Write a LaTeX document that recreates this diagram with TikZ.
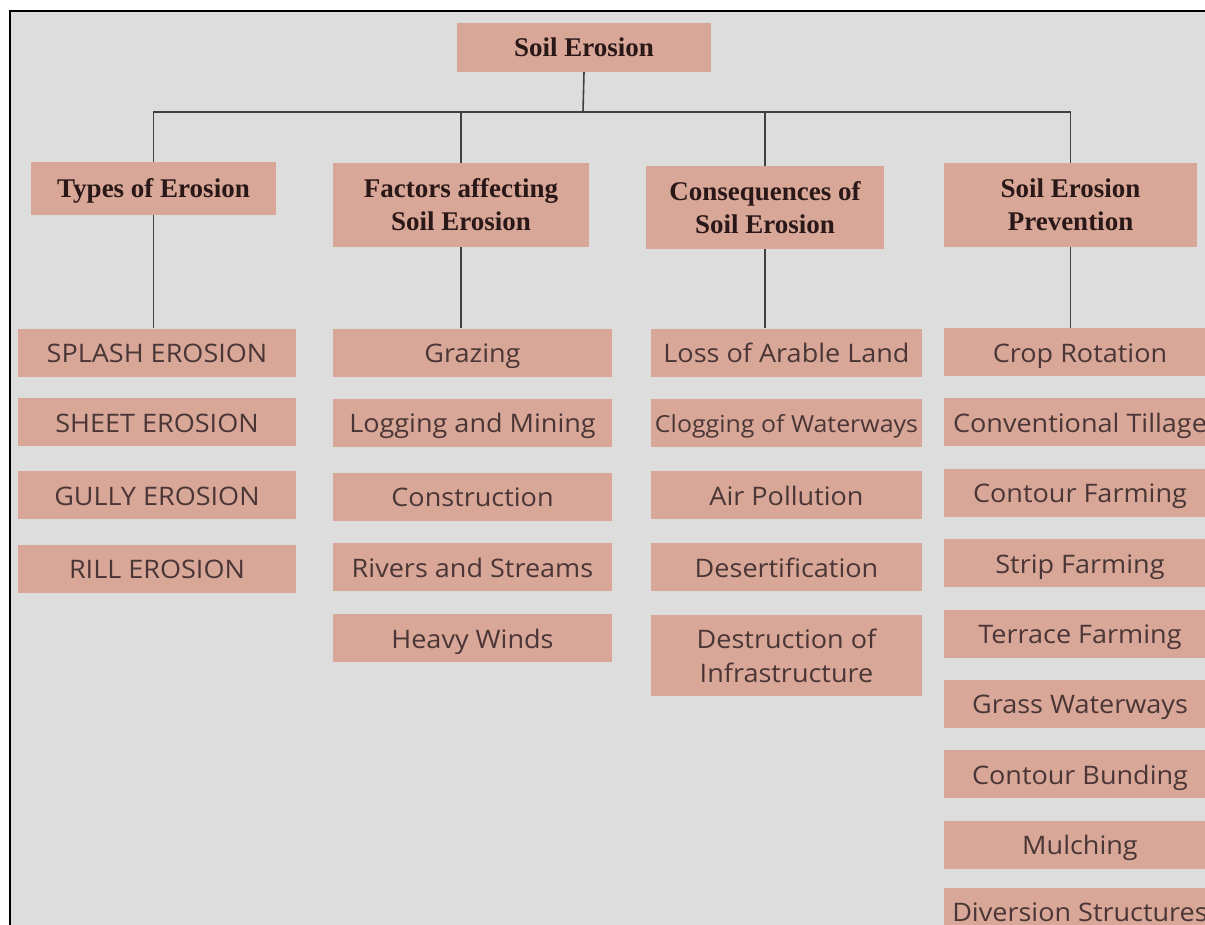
\documentclass[tikz,border=0pt]{standalone}
\usepackage{fontspec}
\setmainfont{Liberation Serif}
\newfontfamily\leaffont[FakeStretch=1.06]{Open Sans}
\usepackage{xcolor}
\usepackage{tikz}
\usetikzlibrary{positioning}
\definecolor{boxfill}{RGB}{216,167,151}
\definecolor{paper}{RGB}{221,221,221}
\definecolor{headtext}{RGB}{42,24,24}
\definecolor{leaftext}{RGB}{74,54,54}
\definecolor{linkgray}{RGB}{64,64,64}

\begin{document}
\begin{tikzpicture}[x=1pt, y=-1pt,
    headbox/.style={fill=boxfill, text=headtext, align=center, inner sep=0pt,
        font=\fontsize{27}{33}\selectfont\bfseries},
    leafbox/.style={fill=boxfill, text=leaftext, align=center, inner sep=0pt,
        minimum height=48, font=\leaffont\fontsize{25.5}{34}\selectfont},
    oneline/.style={text height=#1, text depth=0pt},
    link/.style={draw=linkgray, line width=1.6pt}]
    % Khung nền
    \useasboundingbox (0,0) rectangle (1205,924);
    \clip (0,0) rectangle (1205,924);
    \fill[white] (0,0) rectangle (1205,924);
    \draw[fill=paper, line width=2pt] (10,11) rectangle (1240,960);

    % Gốc và các nhánh chính
    \node[headbox, oneline=18, minimum width=254, minimum height=49] (root) at (584,47.5) {Soil Erosion};
    \node[headbox, oneline=18, minimum width=245, minimum height=53] (types) at (153.5,188.5) {Types of Erosion};
    \node[headbox, minimum width=256, minimum height=84] (factors) at (461,205) {Factors affecting\\Soil Erosion};
    \node[headbox, minimum width=238, minimum height=83] (cons) at (765,207.5) {Consequences of\\Soil Erosion};
    \node[headbox, minimum width=253, minimum height=84] (prev) at (1070.5,205) {Soil Erosion\\Prevention};

    % Cột 1: các loại xói mòn
    \node[leafbox, oneline=20, minimum width=278] (splash) at (157,352.5) {SPLASH EROSION};
    \node[leafbox, oneline=20, minimum width=278] (sheet) at (157,422) {SHEET EROSION};
    \node[leafbox, oneline=20, minimum width=278] (gully) at (157,495) {GULLY EROSION};
    \node[leafbox, oneline=20, minimum width=278] (rill) at (157,568.5) {RILL EROSION};

    % Cột 2: các yếu tố
    \node[leafbox, oneline=20, minimum width=279] (grazing) at (472.5,352.5) {Grazing};
    \node[leafbox, oneline=20, minimum width=279] (logging) at (472.5,422.5) {Logging and Mining};
    \node[leafbox, oneline=20, minimum width=279] (construct) at (472.5,496.5) {Construction};
    \node[leafbox, oneline=20, minimum width=279] (rivers) at (472.5,567) {Rivers and Streams};
    \node[leafbox, oneline=20, minimum width=279] (winds) at (472.5,638) {Heavy Winds};

    % Cột 3: hậu quả
    \node[leafbox, oneline=20, minimum width=271] (arable) at (786.5,352.5) {Loss of Arable Land};
    \node[leafbox, oneline=20, minimum width=271, font=\leaffont\fontsize{23.5}{34}\selectfont] (clogging) at (786.5,422.5) {Clogging of Waterways};
    \node[leafbox, oneline=20, minimum width=271] (air) at (786.5,495) {Air Pollution};
    \node[leafbox, oneline=20, minimum width=271] (desert) at (786.5,567) {Desertification};
    \node[leafbox, minimum width=271, minimum height=81] (infra) at (786.5,655.5) {Destruction of\\Infrastructure};

    % Cột 4: biện pháp phòng chống
    \node[leafbox, oneline=20, minimum width=272] (crop) at (1080,352) {Crop Rotation};
    \node[leafbox, oneline=20, minimum width=272] (tillage) at (1080,422) {Conventional Tillage};
    \node[leafbox, oneline=20, minimum width=272] (contour) at (1080,492.5) {Contour Farming};
    \node[leafbox, oneline=20, minimum width=272] (strip) at (1080,563) {Strip Farming};
    \node[leafbox, oneline=20, minimum width=272] (terrace) at (1080,633.5) {Terrace Farming};
    \node[leafbox, oneline=20, minimum width=272] (grass) at (1080,703.5) {Grass Waterways};
    \node[leafbox, oneline=20, minimum width=272] (bunding) at (1080,774) {Contour Bunding};
    \node[leafbox, oneline=20, minimum width=272] (mulch) at (1080,844.5) {Mulching};
    \node[leafbox, oneline=20, minimum width=272] (diversion) at (1080,911.5) {Diversion Structures};

    % Đường nối
    \coordinate (bar) at (583,112);
    \draw[link] (root.south) -- (bar);
    \draw[link] (types.north) |- (bar) -| (prev.north);
    \draw[link] (factors.north) -- (factors.north |- bar);
    \draw[link] (cons.north) -- (cons.north |- bar);
    \draw[link] (types.south) -- (types.south |- splash.north);
    \draw[link] (factors.south) -- (factors.south |- grazing.north);
    \draw[link] (cons.south) -- (cons.south |- arable.north);
    \draw[link] (prev.south) -- (prev.south |- crop.north);
\end{tikzpicture}
\end{document}
